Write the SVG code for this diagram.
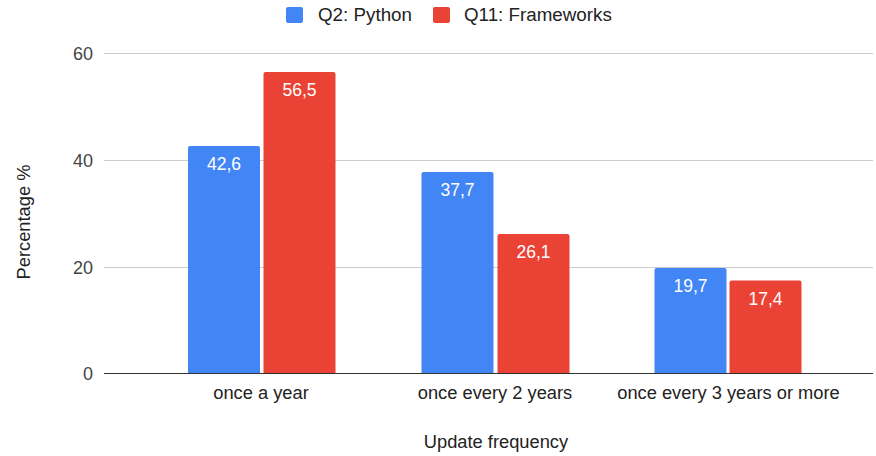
<svg xmlns="http://www.w3.org/2000/svg" width="876" height="456" viewBox="0 0 876 456">
<style>
text{font-family:"Liberation Sans",Arial,sans-serif;font-size:18.3px}
.tick{fill:#444;text-anchor:end;font-size:18px}
.cat{fill:#222;text-anchor:middle}
.val{fill:#fff;text-anchor:middle;font-size:17.5px}
.leg{fill:#222;font-size:18.8px}
.grid{stroke:#ccc;stroke-width:1}
.blue{fill:#4285F4}
.red{fill:#EA4335}
</style>
<rect width="876" height="456" fill="#fff"/>
<g id="legend">
<rect class="blue" x="286" y="7" width="17" height="16" rx="2"/>
<text class="leg" x="318" y="21">Q2: Python</text>
<rect class="red" x="433" y="7" width="17" height="16" rx="2"/>
<text class="leg" x="464" y="21">Q11: Frameworks</text>
</g>
<g id="grid">
<line class="grid" x1="104" y1="53.5" x2="873" y2="53.5"/>
<line class="grid" x1="104" y1="160.5" x2="873" y2="160.5"/>
<line class="grid" x1="104" y1="267.5" x2="873" y2="267.5"/>
<text class="tick" x="93" y="59.5">60</text>
<text class="tick" x="93" y="166.5">40</text>
<text class="tick" x="93" y="273.5">20</text>
<text class="tick" x="93" y="380">0</text>
</g>
<g id="bars">
<g id="g1">
<path class="blue" d="M188,374V148a2,2 0 0 1 2,-2H258a2,2 0 0 1 2,2V374Z"/>
<path class="red" d="M263.5,374V74a2,2 0 0 1 2,-2H333.5a2,2 0 0 1 2,2V374Z"/>
<text class="val" x="224" y="170">42,6</text>
<text class="val" x="299.5" y="96">56,5</text>
</g>
<g id="g2">
<path class="blue" d="M421.5,374V174a2,2 0 0 1 2,-2H491.5a2,2 0 0 1 2,2V374Z"/>
<path class="red" d="M497.5,374V236a2,2 0 0 1 2,-2H567.5a2,2 0 0 1 2,2V374Z"/>
<text class="val" x="457.5" y="196">37,7</text>
<text class="val" x="533.5" y="258">26,1</text>
</g>
<g id="g3">
<path class="blue" d="M654.5,374V270a2,2 0 0 1 2,-2H724.5a2,2 0 0 1 2,2V374Z"/>
<path class="red" d="M729.5,374V282.5a2,2 0 0 1 2,-2H799.5a2,2 0 0 1 2,2V374Z"/>
<text class="val" x="690.5" y="292">19,7</text>
<text class="val" x="765.5" y="304.5">17,4</text>
</g>
</g>
<g id="axis">
<line x1="104" y1="373.5" x2="873" y2="373.5" stroke="#333" stroke-width="1.2"/>
<text class="cat" x="261" y="399">once a year</text>
<text class="cat" x="495" y="399">once every 2 years</text>
<text class="cat" x="728.5" y="399">once every 3 years or more</text>
<text class="cat" x="496" y="448">Update frequency</text>
<text class="cat" transform="translate(30,222) rotate(-90)">Percentage %</text>
</g>
</svg>
